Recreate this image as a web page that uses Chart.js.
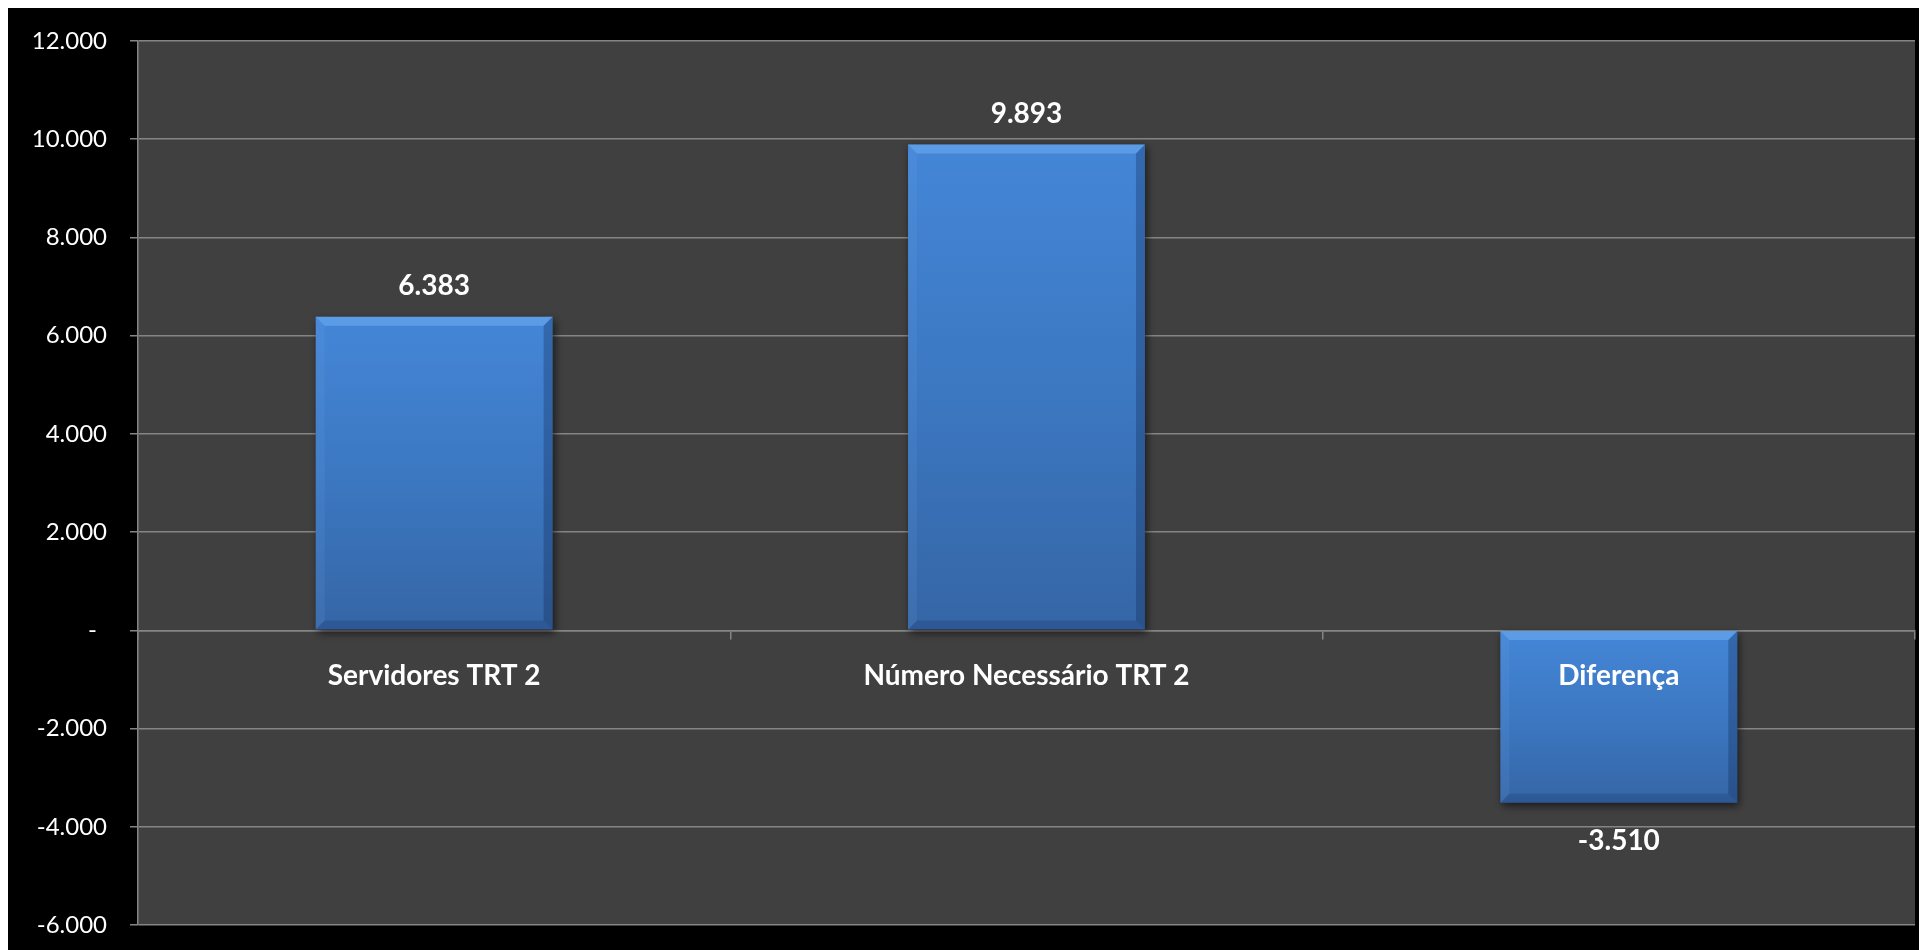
<!DOCTYPE html>
<html>
<head>
<meta charset="utf-8">
<script src="https://cdn.jsdelivr.net/npm/chart.js@4/dist/chart.umd.min.js"></script>
<style>
  html, body { background: #ffffff; }
  body { margin: 8px; }
  #wrap { width: 1919px; height: 942px; background: #000000; position: relative; }
  canvas { display: block; }
</style>
</head>
<body>
<div id="wrap"><canvas id="c"></canvas></div>
<script>
const categories = ['Servidores TRT 2', 'Número Necessário TRT 2', 'Diferença'];
const values = [6383, 9893, -3510];
const yMin = -6000;
const yMax = 12000;
const yStep = 2000;

function fmt(n) {
  const s = Math.abs(Math.round(n)).toString().replace(/\B(?=(\d{3})+(?!\d))/g, '.');
  return (n < 0 ? '-' : '') + s;
}

const FONT = 'Lato, "Open Sans", "DejaVu Sans", sans-serif';
const GRID = '#858585';

function barFill(ctx) {
  const chart = ctx.chart;
  const area = chart.chartArea;
  if (!area) return '#3f7bc9';
  const y = chart.scales.y;
  const v = values[ctx.dataIndex];
  const top = y.getPixelForValue(Math.max(v, 0));
  const bot = y.getPixelForValue(Math.min(v, 0));
  const g = chart.ctx.createLinearGradient(0, top, 0, bot);
  g.addColorStop(0, '#4486d7');
  g.addColorStop(0.5, '#3c78c2');
  g.addColorStop(1, '#3566a6');
  return g;
}

const shadowPlugin = {
  id: 'shadow',
  beforeDatasetsDraw(chart) {
    const c = chart.ctx;
    c.save();
    c.shadowColor = 'rgba(0,0,0,0.6)';
    c.shadowBlur = 8;
    c.shadowOffsetX = 2;
    c.shadowOffsetY = 3;
  },
  afterDatasetsDraw(chart) {
    const c = chart.ctx;
    c.restore();
    const meta = chart.getDatasetMeta(0);
    const b = 9;
    meta.data.forEach((bar, i) => {
      const l = bar.x - bar.width / 2, r = bar.x + bar.width / 2;
      const t = Math.min(bar.y, bar.base), bt = Math.max(bar.y, bar.base);
      c.save();
      c.fillStyle = 'rgba(130,190,255,0.40)';
      c.beginPath(); c.moveTo(l, t); c.lineTo(r, t); c.lineTo(r - b, t + b); c.lineTo(l + b, t + b); c.closePath(); c.fill();
      c.fillStyle = 'rgba(120,175,240,0.12)';
      c.beginPath(); c.moveTo(l, t); c.lineTo(l + b, t + b); c.lineTo(l + b, bt - b); c.lineTo(l, bt); c.closePath(); c.fill();
      c.fillStyle = 'rgba(10,30,70,0.28)';
      c.beginPath(); c.moveTo(r, t); c.lineTo(r, bt); c.lineTo(r - b, bt - b); c.lineTo(r - b, t + b); c.closePath(); c.fill();
      c.fillStyle = 'rgba(10,30,70,0.18)';
      c.beginPath(); c.moveTo(l, bt); c.lineTo(r, bt); c.lineTo(r - b, bt - b); c.lineTo(l + b, bt - b); c.closePath(); c.fill();
      c.restore();

      const v = values[i];
      c.save();
      c.fillStyle = '#ffffff';
      c.font = 'bold 28px ' + FONT;
      c.textAlign = 'center';
      c.textBaseline = 'middle';
      const ly = v >= 0 ? bar.y - 31 : bar.y + 38;
      c.fillText(fmt(v), bar.x, ly);
      c.restore();
    });
  }
};

const plotBg = {
  id: 'plotBg',
  beforeDraw(chart) {
    const a = chart.chartArea;
    const c = chart.ctx;
    c.save();
    c.fillStyle = '#404040';
    c.fillRect(a.left, a.top, a.right - a.left, a.bottom - a.top);
    c.restore();
  }
};

new Chart(document.getElementById('c'), {
  type: 'bar',
  data: {
    labels: categories,
    datasets: [{
      data: values,
      backgroundColor: barFill,
      borderWidth: 0,
      barPercentage: 0.4,
      categoryPercentage: 1.0
    }]
  },
  options: {
    responsive: true,
    maintainAspectRatio: false,
    animation: false,
    layout: { padding: { left: 0, top: 33, right: 12, bottom: 25 } },
    plugins: {
      legend: { display: false },
      tooltip: { enabled: false }
    },
    scales: {
      x: {
        position: { y: 0 },
        offset: true,
        grid: {
          offset: true,
          drawOnChartArea: false,
          drawTicks: true,
          tickLength: 8,
          color: GRID,
          lineWidth: 1.5
        },
        border: { display: true, color: GRID, width: 1.5 },
        ticks: {
          z: 1,
          color: '#ffffff',
          font: { family: FONT, size: 28, weight: 'bold' },
          padding: 21,
          maxRotation: 0,
          autoSkip: false
        }
      },
      y: {
        min: yMin,
        max: yMax,
        afterFit(scale) {
          scale.width = 130;
          scale.paddingTop = 0;
          scale.paddingBottom = 0;
        },
        grid: {
          color: GRID,
          lineWidth: 1.5,
          drawTicks: true,
          tickLength: 8
        },
        border: { display: true, color: GRID, width: 1.5 },
        ticks: {
          stepSize: yStep,
          color: '#ffffff',
          font: { family: FONT, size: 24 },
          padding: 23,
          callback: (v) => v === 0 ? '-\u2008\u2008' : fmt(v)
        }
      }
    }
  },
  plugins: [plotBg, shadowPlugin]
});
</script>
</body>
</html>
